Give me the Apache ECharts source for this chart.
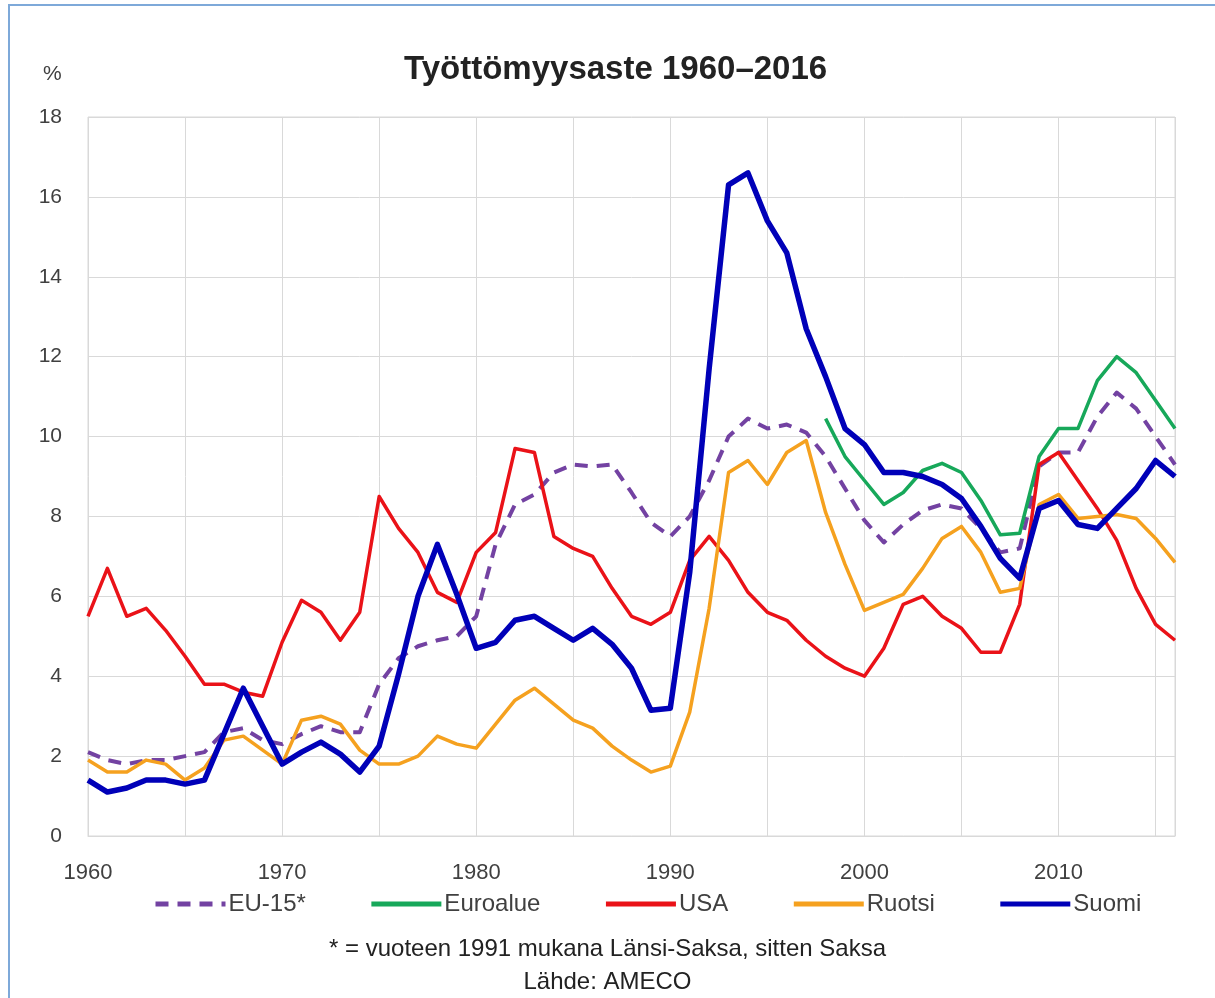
<!DOCTYPE html>
<html>
<head>
<meta charset="utf-8">
<script src="https://cdn.jsdelivr.net/npm/echarts@6/dist/echarts.min.js"></script>
<style>
  html, body { margin: 0; padding: 0; background: #fff; }
  #frame { position: absolute; left: 8px; top: 4px; width: 1210px; height: 996px;
           border-left: 2px solid #7ea9d9; border-top: 2px solid #7ea9d9; }
  #chart { position: absolute; left: 0; top: 0; width: 1215px; height: 998px; }
</style>
</head>
<body>
<div id="frame"></div>
<div id="chart"></div>
<script>
// Työttömyysaste 1960–2016, AMECO
var startYear = 1960;
var euroStartYear = 1998;

var eu15 = [
  2.1, 1.9, 1.8, 1.9, 1.9, 2.0, 2.1, 2.6, 2.7, 2.4,
  2.3, 2.55, 2.75, 2.6, 2.6, 3.8, 4.45, 4.75, 4.9, 5.0,
  5.5, 7.3, 8.3, 8.55, 9.1, 9.3, 9.25, 9.3, 8.6, 7.85,
  7.5, 8.0, 8.9, 10.0, 10.45, 10.2, 10.3, 10.1, 9.5, 8.7,
  7.9, 7.35, 7.8, 8.15, 8.3, 8.2, 7.7, 7.1, 7.2, 9.25,
  9.6, 9.6, 10.5, 11.1, 10.7, 10.0, 9.3
];
var euroalue = [
  10.45, 9.5,
  8.9, 8.3, 8.6, 9.15, 9.33, 9.1, 8.4, 7.54, 7.58, 9.5,
  10.2, 10.2, 11.4, 12.0, 11.6, 10.9, 10.2
];
var usa = [
  5.5, 6.7, 5.5, 5.7, 5.15, 4.5, 3.8, 3.8, 3.6, 3.5,
  4.85, 5.9, 5.6, 4.9, 5.6, 8.5, 7.7, 7.1, 6.1, 5.85,
  7.1, 7.6, 9.7, 9.6, 7.5, 7.2, 7.0, 6.2, 5.5, 5.3,
  5.6, 6.9, 7.5, 6.9, 6.1, 5.6, 5.4, 4.9, 4.5, 4.2,
  4.0, 4.7, 5.8, 6.0, 5.5, 5.2, 4.6, 4.6, 5.8, 9.3,
  9.6, 8.9, 8.2, 7.4, 6.2, 5.3, 4.9
];
var ruotsi = [
  1.9, 1.6, 1.6, 1.9, 1.8, 1.4, 1.7, 2.4, 2.5, 2.15,
  1.8, 2.9, 3.0, 2.8, 2.15, 1.8, 1.8, 2.0, 2.5, 2.3,
  2.2, 2.8, 3.4, 3.7, 3.3, 2.9, 2.7, 2.25, 1.9, 1.6,
  1.75, 3.1, 5.7, 9.1, 9.4, 8.8, 9.6, 9.9, 8.1, 6.8,
  5.65, 5.85, 6.05, 6.7, 7.45, 7.75, 7.1, 6.1, 6.2, 8.3,
  8.55, 7.95, 8.0, 8.05, 7.95, 7.45, 6.85
];
var suomi = [
  1.4, 1.1, 1.2, 1.4, 1.4, 1.3, 1.4, 2.55, 3.7, 2.75,
  1.8, 2.1, 2.35, 2.05, 1.6, 2.25, 4.05, 6.0, 7.3, 6.05,
  4.7, 4.85, 5.4, 5.5, 5.2, 4.9, 5.2, 4.8, 4.2, 3.15,
  3.2, 6.6, 11.7, 16.3, 16.6, 15.4, 14.6, 12.7, 11.5, 10.2,
  9.8, 9.1, 9.1, 9.0, 8.8, 8.45, 7.75, 6.95, 6.45, 8.2,
  8.4, 7.8, 7.7, 8.2, 8.7, 9.4, 9.0
];

var seriesNames = ['EU-15*', 'Euroalue', 'USA', 'Ruotsi', 'Suomi'];
var seriesColors = ['#7342a2', '#17a85a', '#ea1218', '#f5a11f', '#0000b8'];

function pairs(values, first) {
  return values.map(function (v, i) { return [first + i, v]; });
}

var font = "'Liberation Sans', Arial, sans-serif";

var chartDom = document.getElementById('chart');
var myChart = echarts.init(chartDom);
var option = {
  animation: false,
  textStyle: { fontFamily: font },
  grid: {
    left: 88, right: 40, top: 117, bottom: 162,
    show: true, borderColor: '#d9d9d9', borderWidth: 1
  },
  xAxis: {
    type: 'value',
    min: 1960, max: 2016, interval: 5,
    axisLine: { show: true, lineStyle: { color: '#d9d9d9', width: 1 } },
    axisTick: { show: false },
    splitLine: { show: true, lineStyle: { color: '#d9d9d9', width: 1 } },
    axisLabel: {
      margin: 26, fontSize: 22, color: '#404040', fontFamily: font,
      formatter: function (v) { return v % 10 === 0 ? String(v) : ''; }
    }
  },
  yAxis: {
    type: 'value',
    min: 0, max: 18, interval: 2,
    axisLine: { show: false },
    axisTick: { show: false },
    splitLine: { show: true, lineStyle: { color: '#d9d9d9', width: 1 } },
    axisLabel: { margin: 26, fontSize: 21, color: '#404040', fontFamily: font }
  },
  legend: {
    left: 148, top: 887,
    itemWidth: 70, itemHeight: 22, itemGap: 63,
    itemStyle: { opacity: 0 },
    lineStyle: { width: 5 },
    textStyle: { fontSize: 24, color: '#404040', fontFamily: font, padding: [0, 0, 0, -2] },
    data: seriesNames
  },
  graphic: [
    { type: 'text', left: 404, top: 53,
      style: { text: 'Työttömyysaste 1960–2016', fontSize: 33, fontWeight: 'bold', fill: '#222', fontFamily: font } },
    { type: 'text', left: 43, top: 64,
      style: { text: '%', fontSize: 21, fill: '#404040', fontFamily: font } },
    { type: 'text', left: 'center', top: 937,
      style: { text: '* = vuoteen 1991 mukana Länsi-Saksa, sitten Saksa', fontSize: 24, fill: '#222', fontFamily: font } },
    { type: 'text', left: 'center', top: 970,
      style: { text: 'Lähde: AMECO', fontSize: 24, fill: '#222', fontFamily: font } }
  ],
  series: [
    {
      name: seriesNames[0], type: 'line', symbol: 'none', z: 2,
      data: pairs(eu15, startYear),
      itemStyle: { color: seriesColors[0] },
      lineStyle: { color: seriesColors[0], width: 4, type: [13, 9], join: 'round' }
    },
    {
      name: seriesNames[1], type: 'line', symbol: 'none', z: 3,
      data: pairs(euroalue, euroStartYear),
      itemStyle: { color: seriesColors[1] },
      lineStyle: { color: seriesColors[1], width: 3.5, join: 'round' }
    },
    {
      name: seriesNames[2], type: 'line', symbol: 'none', z: 4,
      data: pairs(usa, startYear),
      itemStyle: { color: seriesColors[2] },
      lineStyle: { color: seriesColors[2], width: 3.5, join: 'round' }
    },
    {
      name: seriesNames[3], type: 'line', symbol: 'none', z: 5,
      data: pairs(ruotsi, startYear),
      itemStyle: { color: seriesColors[3] },
      lineStyle: { color: seriesColors[3], width: 3.5, join: 'round' }
    },
    {
      name: seriesNames[4], type: 'line', symbol: 'none', z: 6,
      data: pairs(suomi, startYear),
      itemStyle: { color: seriesColors[4] },
      lineStyle: { color: seriesColors[4], width: 5.5, join: 'round' }
    }
  ]
};
option && myChart.setOption(option);
window.addEventListener('resize', function () {
  myChart.resize();
});
</script>
</body>
</html>
